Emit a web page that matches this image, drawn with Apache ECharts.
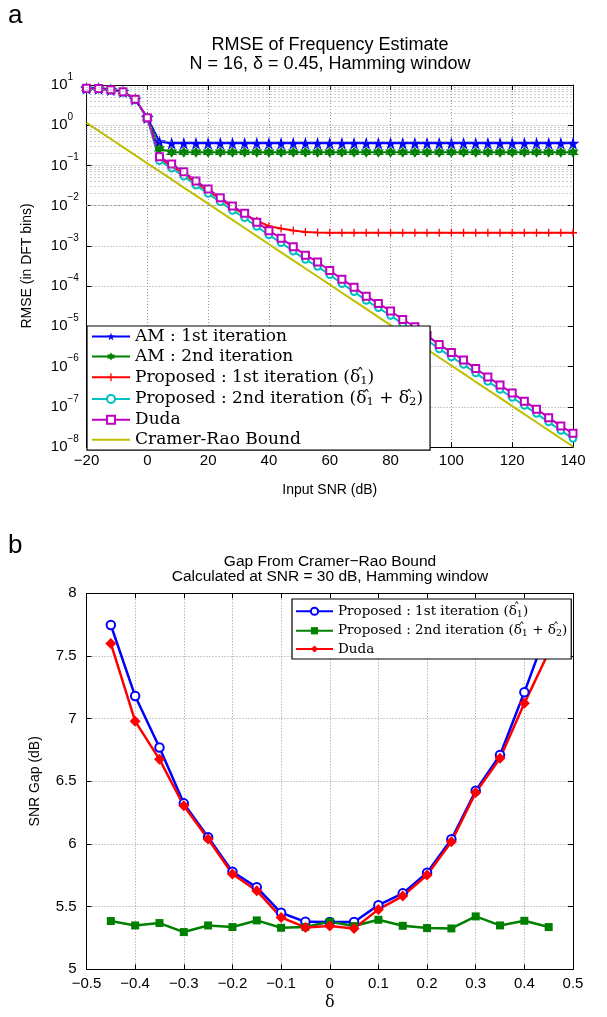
<!DOCTYPE html>
<html><head><meta charset="utf-8">
<script src="https://cdn.jsdelivr.net/npm/echarts@6/dist/echarts.min.js"></script>
<style>html,body{margin:0;padding:0;background:#fff}#c{width:607px;height:1017px}</style>
</head><body><div id="c"></div>
<script>
// ---------- Panel a data ----------
const snrDb = [-20,-16,-12,-8,-4,0,4,8,12,16,20,24,28,32,36,40,44,48,52,56,60,64,68,72,76,80,84,88,92,96,100,104,108,112,116,120,124,128,132,136,140];
const amFirst = [8.28,8.2,7.64,6.81,4.41,1.54,0.39,0.355,0.355,0.355,0.355,0.355,0.355,0.355,0.355,0.355,0.355,0.355,0.355,0.355,0.355,0.355,0.355,0.355,0.355,0.355,0.355,0.355,0.355,0.355,0.355,0.355,0.355,0.355,0.355,0.355,0.355,0.355,0.355,0.355,0.355];
const amSecond = [8.28,8.2,7.64,6.81,4.41,1.54,0.26,0.214,0.214,0.214,0.214,0.214,0.214,0.214,0.214,0.214,0.214,0.214,0.214,0.214,0.214,0.214,0.214,0.214,0.214,0.214,0.214,0.214,0.214,0.214,0.214,0.214,0.214,0.214,0.214,0.214,0.214,0.214,0.214,0.214,0.214];
const propFirst = [8.28,8.2,7.64,6.81,4.41,1.54,0.148,0.0977,0.0617,0.0372,0.0234,0.0145,9.12e-3,6.03e-3,4.22e-3,3.09e-3,2.69e-3,2.40e-3,2.21e-3,2.14e-3,2.12e-3,2.12e-3,2.12e-3,2.12e-3,2.12e-3,2.12e-3,2.12e-3,2.12e-3,2.12e-3,2.12e-3,2.12e-3,2.12e-3,2.12e-3,2.12e-3,2.12e-3,2.12e-3,2.12e-3,2.12e-3,2.12e-3,2.12e-3,2.12e-3];
const propSecond = [8.2,8.1,7.55,6.72,4.32,1.5,0.131,0.0851,0.0537,0.0324,0.0200,0.0123,7.59e-3,5.01e-3,3.02e-3,1.86e-3,1.20e-3,7.41e-4,4.57e-4,3.09e-4,1.91e-4,1.15e-4,7.24e-5,4.37e-5,2.88e-5,1.86e-5,1.15e-5,7.59e-6,4.57e-6,2.75e-6,1.74e-6,1.12e-6,6.92e-7,4.27e-7,2.69e-7,1.70e-7,1.07e-7,6.76e-8,4.17e-8,2.57e-8,1.62e-8];
const dudaRmse = [8.28,8.2,7.64,6.81,4.41,1.54,0.164,0.108,0.0697,0.0409,0.0259,0.0158,9.77e-3,6.46e-3,3.85e-3,2.38e-3,1.54e-3,9.55e-4,5.89e-4,3.98e-4,2.45e-4,1.49e-4,9.33e-5,5.62e-5,3.72e-5,2.40e-5,1.48e-5,9.77e-6,5.89e-6,3.55e-6,2.24e-6,1.45e-6,8.91e-7,5.50e-7,3.47e-7,2.19e-7,1.38e-7,8.71e-8,5.37e-8,3.31e-8,2.19e-8];
const crb = [1.15,0.723,0.455,0.286,0.180,0.113,0.0713,0.0449,0.0282,0.0177,0.0112,7.03e-3,4.42e-3,2.78e-3,1.75e-3,1.10e-3,6.93e-4,4.36e-4,2.74e-4,1.73e-4,1.09e-4,6.84e-5,4.30e-5,2.71e-5,1.70e-5,1.07e-5,6.74e-6,4.24e-6,2.67e-6,1.68e-6,1.06e-6,6.65e-7,4.18e-7,2.63e-7,1.66e-7,1.04e-7,6.56e-8,4.13e-8,2.60e-8,1.63e-8,1.03e-8];

// ---------- Panel b data ----------
const delta = [-0.45,-0.4,-0.35,-0.3,-0.25,-0.2,-0.15,-0.1,-0.05,0,0.05,0.1,0.15,0.2,0.25,0.3,0.35,0.4,0.45];
const gapProp1 = [7.747,7.18,6.77,6.324,6.053,5.778,5.654,5.451,5.379,5.377,5.377,5.512,5.606,5.77,6.037,6.425,6.71,7.21,7.74];
const gapProp2 = [5.385,5.35,5.369,5.297,5.35,5.337,5.39,5.331,5.337,5.379,5.345,5.395,5.347,5.329,5.326,5.422,5.35,5.387,5.337];
const gapDuda = [7.60,6.98,6.675,6.305,6.04,5.76,5.627,5.414,5.334,5.345,5.326,5.478,5.584,5.752,6.018,6.41,6.683,7.122,7.53];

// ---------- styling ----------
const SANS = 'Liberation Sans';
const SERIF = 'DejaVu Serif';
const GRIDC = '#9a9a9a';
const DOT = [1, 2];
const STAR = 'path://M50,0L61.2,34.5L97.6,34.5L68.2,55.9L79.4,90.5L50,69.1L20.6,90.5L31.8,55.9L2.4,34.5L38.8,34.5Z';
const HEX = 'path://M50,0L35.6,25L6.7,25L21.1,50L6.7,75L35.6,75L50,100L64.4,75L93.3,75L78.9,50L93.3,25L64.4,25Z';
const PLUS = 'path://M42,0H58V42H100V58H58V100H42V58H0V42H42Z';
const LINEICON = 'path://M0,0H38V2H0Z';

// δ with a hat: the hat token has ~zero width and is right-aligned so it sits over the δ
const DH = '{t|\u03b4}{h|\u02c6}';
const nameA = ['AM : 1st iteration','AM : 2nd iteration','Proposed : 1st iteration (d1)','Proposed : 2nd iteration (d1 + d2)','Duda','Cramer-Rao Bound'];
const nameB = ['b1','b2','b3'];
const labelOf = {
  'AM : 1st iteration':'{t|AM : 1st iteration}',
  'AM : 2nd iteration':'{t|AM : 2nd iteration}',
  'Proposed : 1st iteration (d1)':'{t|Proposed : 1st iteration (}' + DH + '{s|1}{t|)}',
  'Proposed : 2nd iteration (d1 + d2)':'{t|Proposed : 2nd iteration (}' + DH + '{s|1}{t| + }' + DH + '{s|2}{t|)}',
  'Duda':'{t|Duda}',
  'Cramer-Rao Bound':'{t|Cramer-Rao Bound}',
  'b1':'{t|Proposed : 1st iteration (}' + DH + '{s|1}{t|)}',
  'b2':'{t|Proposed : 2nd iteration (}' + DH + '{s|1}{t| + }' + DH + '{s|2}{t|)}',
  'b3':'{t|Duda}'
};

const pairs = (xs, ys) => xs.map((x, i) => [x, ys[i]]);
const minus = s => String(s).replace('-', '\u2212');

// minor log grid values (2..9 x 10^k)
const minorVals = [];
for (let k = -8; k < 1; k++) for (let m = 2; m <= 9; m++) minorVals.push(m * Math.pow(10, k));

const axLine = {show:true, onZero:false, lineStyle:{color:'#000', width:1}};
const tickIn = {show:true, inside:true, length:5, lineStyle:{color:'#000', width:1}};
const dotted = {show:true, lineStyle:{color:GRIDC, type:DOT, width:1}};

function topSeries(name, data, color, symbol, size) {
  return {
    name, type:'line', xAxisIndex:0, yAxisIndex:0, data:pairs(snrDb, data),
    symbol, symbolSize:size, showAllSymbol:true,
    lineStyle:{color, width:2}, itemStyle:{color, borderWidth:1.5},
    emphasis:{disabled:true}, animation:false, z:3
  };
}
function botSeries(name, data, color, symbol, size) {
  return {
    name, type:'line', xAxisIndex:2, yAxisIndex:2, data:pairs(delta, data),
    symbol, symbolSize:size, showAllSymbol:true,
    lineStyle:{color, width:2.5}, itemStyle:{color, borderWidth:2},
    emphasis:{disabled:true}, animation:false, z:3
  };
}
const ttl = (x, y, text, size) => ({type:'text', x, y, style:{text, font:size + 'px "Liberation Sans"', fill:'#000', align:'center', textAlign:'center', verticalAlign:'middle', textVerticalAlign:'middle'}});
const richFor = (fs, lh, sfs, slh, hfs, hlh) => ({
  t:{fontFamily:SERIF, fontSize:fs, lineHeight:lh, color:'#000'},
  s:{fontFamily:SERIF, fontSize:sfs, lineHeight:slh, verticalAlign:'bottom', color:'#000'},
  h:{fontFamily:SERIF, fontSize:hfs, lineHeight:hlh, verticalAlign:'top', width:0.01, align:'right', color:'#000'}
});

const option = {
  animation:false,
  backgroundColor:'#fff',
  grid:[
    {left:86.5, top:85, width:486.5, height:362, containLabel:false},
    {left:86.5, top:593.3, width:486.5, height:376, containLabel:false}
  ],
  xAxis:[
    {gridIndex:0, type:'value', min:-20, max:140, interval:20, axisLine:axLine, axisTick:tickIn,
     axisLabel:{fontFamily:SANS, fontSize:15, color:'#000', margin:6, formatter:v=>minus(v)},
     splitLine:dotted, name:'Input SNR (dB)', nameLocation:'middle', nameGap:36,
     nameTextStyle:{fontFamily:SANS, fontSize:14, color:'#000'}},
    {gridIndex:0, type:'value', position:'top', min:-20, max:140, interval:20, axisLine:axLine, axisTick:tickIn,
     axisLabel:{show:false}, splitLine:{show:false}},
    {gridIndex:1, type:'value', min:-0.5, max:0.5, interval:0.1, axisLine:axLine, axisTick:tickIn,
     axisLabel:{fontFamily:SANS, fontSize:15, color:'#000', margin:7, formatter:v=>minus(Math.round(v*10)/10)},
     splitLine:dotted, name:'δ', nameLocation:'middle', nameGap:26,
     nameTextStyle:{fontFamily:SERIF, fontSize:16, color:'#000'}},
    {gridIndex:1, type:'value', position:'top', min:-0.5, max:0.5, interval:0.1, axisLine:axLine, axisTick:tickIn,
     axisLabel:{show:false}, splitLine:{show:false}}
  ],
  yAxis:[
    {gridIndex:0, type:'log', logBase:10, min:1e-8, max:10, splitNumber:9, axisLine:axLine, axisTick:tickIn,
     axisLabel:{color:'#000', margin:7,
       formatter:v=>'{b|10}{s|' + minus(Math.round(Math.log10(v))) + '}',
       rich:{b:{fontFamily:SANS, fontSize:15, lineHeight:26, align:'left', color:'#000'},
             s:{fontFamily:SANS, fontSize:10, lineHeight:10, verticalAlign:'top', width:12, align:'left', color:'#000'}}},
     splitLine:dotted, name:'RMSE (in DFT bins)', nameLocation:'middle', nameGap:52, nameRotate:90,
     nameTextStyle:{fontFamily:SANS, fontSize:14, color:'#000'}},
    {gridIndex:0, type:'log', logBase:10, position:'right', min:1e-8, max:10, splitNumber:9, axisLine:axLine, axisTick:tickIn,
     axisLabel:{show:false}, splitLine:{show:false}},
    {gridIndex:1, type:'value', min:5, max:8, interval:0.5, axisLine:axLine, axisTick:tickIn,
     axisLabel:{fontFamily:SANS, fontSize:15, color:'#000', margin:10},
     splitLine:dotted, name:'SNR Gap (dB)', nameLocation:'middle', nameGap:44, nameRotate:90,
     nameTextStyle:{fontFamily:SANS, fontSize:14, color:'#000'}},
    {gridIndex:1, type:'value', position:'right', min:5, max:8, interval:0.5, axisLine:axLine, axisTick:tickIn,
     axisLabel:{show:false}, splitLine:{show:false}}
  ],
  legend:[
    {data:nameA.map(n => n === 'Cramer-Rao Bound' ? {name:n, icon:LINEICON} : n),
     orient:'vertical', left:87, top:326, itemWidth:38, itemHeight:10, itemGap:3,
     padding:[2, 7, 2, 4], borderColor:'#000', borderWidth:1.2, backgroundColor:'#fff', borderRadius:0,
     selectedMode:false, z:10,
     formatter:n=>labelOf[n],
     textStyle:{color:'#000', rich:richFor(17, 18.6, 11.5, 9, 15, 8)}},
    {data:nameB, orient:'vertical', left:292, top:599, itemWidth:37, itemHeight:9, itemGap:3,
     padding:[4, 4, 3, 3], borderColor:'#000', borderWidth:1.2, backgroundColor:'#fff', borderRadius:0,
     selectedMode:false, z:10,
     formatter:n=>labelOf[n],
     textStyle:{color:'#000', rich:richFor(13.5, 16.5, 9.5, 8, 12, 6)}}
  ],
  graphic:[
    {type:'text', x:8, y:16, style:{text:'a', font:'26px "Liberation Sans"', fill:'#000', verticalAlign:'middle', textVerticalAlign:'middle'}},
    {type:'text', x:8, y:546, style:{text:'b', font:'26px "Liberation Sans"', fill:'#000', verticalAlign:'middle', textVerticalAlign:'middle'}},
    ttl(330, 45, 'RMSE of Frequency Estimate', 18),
    ttl(330, 64, 'N = 16, δ = 0.45, Hamming window', 18),
    ttl(330, 562, 'Gap From Cramer\u2212Rao Bound', 15.5),
    ttl(330, 577, 'Calculated at SNR = 30 dB, Hamming window', 15.5)
  ],
  series:[
    {name:'minor-grid', type:'line', xAxisIndex:0, yAxisIndex:0, data:[], silent:true, z:1,
     markLine:{silent:true, symbol:['none','none'], label:{show:false}, animation:false,
       lineStyle:{color:GRIDC, type:[1, 3], width:1}, emphasis:{disabled:true},
       data:minorVals.map(v => ({yAxis:v}))}},
    topSeries(nameA[0], amFirst, '#0000ff', STAR, 13),
    topSeries(nameA[1], amSecond, '#008000', HEX, 11),
    topSeries(nameA[2], propFirst, '#ff0000', PLUS, 8),
    topSeries(nameA[3], propSecond, '#00bfbf', 'emptyCircle', 6.5),
    topSeries(nameA[4], dudaRmse, '#bf00bf', 'emptyRect', 7),
    topSeries(nameA[5], crb, '#bfbf00', 'none', 0),
    botSeries(nameB[0], gapProp1, '#0000ff', 'emptyCircle', 8.5),
    botSeries(nameB[1], gapProp2, '#008000', 'rect', 8),
    botSeries(nameB[2], gapDuda, '#ff0000', 'diamond', 11)
  ]
};
const chart = echarts.init(document.getElementById('c'), null, {renderer:'canvas'});
chart.setOption(option);
</script>
</body></html>
